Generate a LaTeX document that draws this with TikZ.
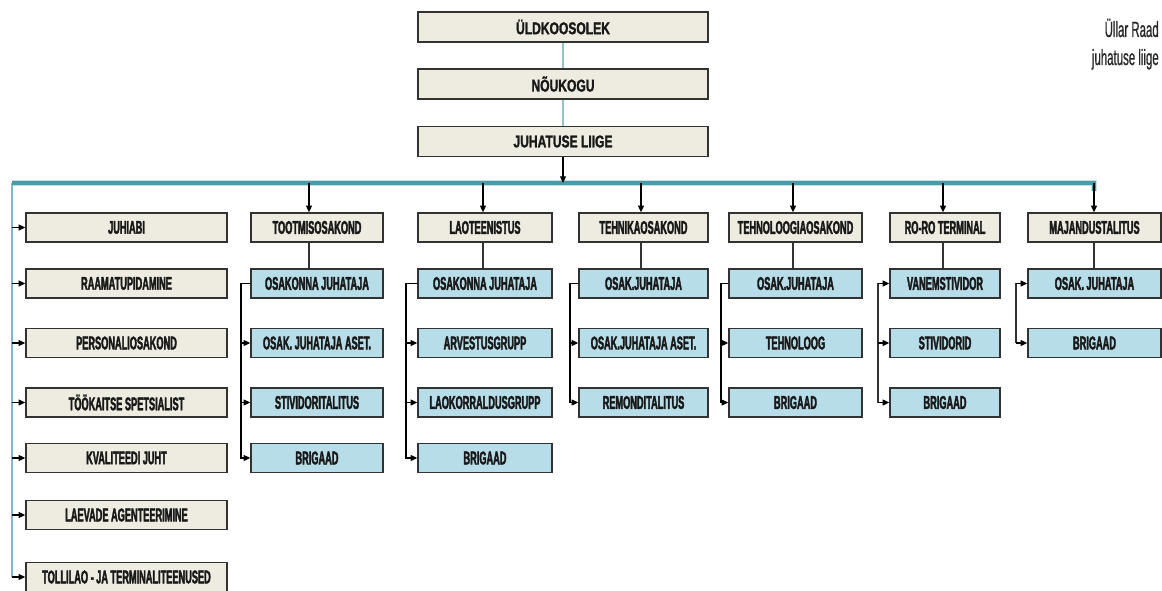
\documentclass[tikz,border=0pt]{standalone}
\usepackage{fontspec}
\usetikzlibrary{arrows.meta}
\setmainfont{Liberation Sans}
\newfontfamily\bxfont[FakeStretch=0.5, FakeBold=2]{Liberation Sans}
\newfontfamily\ttlfont[FakeStretch=0.71, FakeBold=1.5]{Liberation Sans}
\newfontfamily\nmfont[FakeStretch=0.52, FakeBold=0.6]{Liberation Sans}
\definecolor{beigec}{RGB}{238,236,225}
\definecolor{bluec}{RGB}{183,221,232}
\definecolor{busc}{RGB}{74,154,170}
\definecolor{edgec}{RGB}{50,50,50}
\begin{document}
\begin{tikzpicture}[x=0.75pt,y=-0.75pt,
 bxbase/.style={draw=edgec, line width=1.1pt, inner sep=0pt, minimum height={29*0.75pt}, font=\bxfont\bfseries\fontsize{13.8pt}{15pt}\selectfont, text=black!90},
 beigebox/.style={bxbase, fill=beigec},
 bluebox/.style={bxbase, fill=bluec},
 wd/.style={minimum width={#1*0.75pt}},
 topbox/.style={beigebox, minimum width={290*0.75pt}, minimum height={30*0.75pt}, font=\ttlfont\bfseries\fontsize{12.75pt}{14pt}\selectfont},
 arr/.style={draw=black, line width=0.8pt, -{Triangle[length=5pt,width=4.5pt]}},
 link/.style={draw=black!80, line width=0.8pt},
 toplink/.style={draw=busc!60, line width=0.8pt},
 busglow/.style={draw=busc!30, line width=4.5pt},
 bus/.style={draw=busc, line width=2.3pt},
 nametext/.style={anchor=base east, inner sep=0pt, text=black!85, font=\nmfont\fontsize{16.5pt}{19pt}\selectfont},
]
\useasboundingbox (0,0) rectangle (1162,591);
\fill[white] (0,0) rectangle (1162,591);

% top chain
\node[topbox] (uk) at (563,27) {ÜLDKOOSOLEK};
\node[topbox] (nk) at (563,84) {NÕUKOGU};
\node[topbox] (jl) at (563,141.5) {JUHATUSE LIIGE};
\draw[toplink] (uk.south) -- (nk.north);
\draw[toplink] (nk.south) -- (jl.north);

% name
\node[nametext] (nm) at (1159,37) {Üllar Raad};
\node[nametext] (nr) at (1159,65) {juhatuse liige};

% bus
\coordinate (busL) at (12,183);
\coordinate (busR) at (1094,183);
\coordinate (leftEnd) at (12,577);
\draw[busglow] (busL) -- (busR) -- ++(0,8);
\draw[draw=busc!70, line width=1.6pt] (busL) -- (leftEnd);
\draw[bus] (busL) -- (busR) -- ++(0,8);
\draw[arr] (jl.south) -- (jl.south |- busL);

% left column
\node[beigebox, wd=201] (l1) at (126.5,227.5) {JUHIABI};
\node[beigebox, wd=201] (l2) at (126.5,283.5) {RAAMATUPIDAMINE};
\node[beigebox, wd=201] (l3) at (126.5,343) {PERSONALIOSAKOND};
\node[beigebox, wd=201] (l4) at (126.5,402.5) {TÖÖKAITSE SPETSIALIST};
\node[beigebox, wd=201] (l5) at (126.5,458) {KVALITEEDI JUHT};
\node[beigebox, wd=201] (l6) at (126.5,515) {LAEVADE AGENTEERIMINE};
\node[beigebox, wd=201] (l7) at (126.5,577) {TOLLILAO - JA TERMINALITEENUSED};
\foreach \n in {l1,l2,l3,l4,l5,l6,l7}{\draw[arr] (\n.west -| leftEnd) -- (\n.west);}

% column 1
\node[beigebox, wd=132] (d1) at (317,227.5) {TOOTMISOSAKOND};
\node[bluebox, wd=132] (b11) at (317,283.5) {OSAKONNA JUHATAJA};
\node[bluebox, wd=132] (b12) at (317,343) {OSAK. JUHATAJA ASET.};
\node[bluebox, wd=132] (b13) at (317,402.5) {STIVIDORITALITUS};
\node[bluebox, wd=132] (b14) at (317,458) {BRIGAAD};
\coordinate (t1) at (309,183);
\coordinate (k1) at (241,183);
\draw[arr] (t1) -- (t1 |- d1.north);
\draw[link] (t1 |- d1.south) -- (t1 |- b11.north);
\draw[arr] (b11.west) -| (b14.west -| k1) -- (b14.west);
\draw[arr] (b12.west -| k1) -- (b12.west);
\draw[arr] (b13.west -| k1) -- (b13.west);

% column 2
\node[beigebox, wd=134] (d2) at (485,227.5) {LAOTEENISTUS};
\node[bluebox, wd=134] (b21) at (485,283.5) {OSAKONNA JUHATAJA};
\node[bluebox, wd=134] (b22) at (485,343) {ARVESTUSGRUPP};
\node[bluebox, wd=134] (b23) at (485,402.5) {LAOKORRALDUSGRUPP};
\node[bluebox, wd=134] (b24) at (485,458) {BRIGAAD};
\coordinate (t2) at (483,183);
\coordinate (k2) at (406,183);
\draw[arr] (t2) -- (t2 |- d2.north);
\draw[link] (t2 |- d2.south) -- (t2 |- b21.north);
\draw[arr] (b21.west) -| (b24.west -| k2) -- (b24.west);
\draw[arr] (b22.west -| k2) -- (b22.west);
\draw[arr] (b23.west -| k2) -- (b23.west);

% column 3
\node[beigebox, wd=129] (d3) at (643.5,227.5) {TEHNIKAOSAKOND};
\node[bluebox, wd=129] (b31) at (643.5,283.5) {OSAK.JUHATAJA};
\node[bluebox, wd=129] (b32) at (643.5,343) {OSAK.JUHATAJA ASET.};
\node[bluebox, wd=129] (b33) at (643.5,402.5) {REMONDITALITUS};
\coordinate (t3) at (641,183);
\coordinate (k3) at (570,183);
\draw[arr] (t3) -- (t3 |- d3.north);
\draw[link] (t3 |- d3.south) -- (t3 |- b31.north);
\draw[arr] (b31.west) -| (b33.west -| k3) -- (b33.west);
\draw[arr] (b32.west -| k3) -- (b32.west);

% column 4
\node[beigebox, wd=133] (d4) at (795.5,227.5) {TEHNOLOOGIAOSAKOND};
\node[bluebox, wd=133] (b41) at (795.5,283.5) {OSAK.JUHATAJA};
\node[bluebox, wd=133] (b42) at (795.5,343) {TEHNOLOOG};
\node[bluebox, wd=133] (b43) at (795.5,402.5) {BRIGAAD};
\coordinate (t4) at (793,183);
\coordinate (k4) at (721,183);
\draw[arr] (t4) -- (t4 |- d4.north);
\draw[link] (t4 |- d4.south) -- (t4 |- b41.north);
\draw[arr] (b41.west) -| (b43.west -| k4) -- (b43.west);
\draw[arr] (b42.west -| k4) -- (b42.west);

% column 5
\node[beigebox, wd=110] (d5) at (945,227.5) {RO-RO TERMINAL};
\node[bluebox, wd=110] (b51) at (945,283.5) {VANEMSTIVIDOR};
\node[bluebox, wd=110] (b52) at (945,343) {STIVIDORID};
\node[bluebox, wd=110] (b53) at (945,402.5) {BRIGAAD};
\coordinate (t5) at (943,183);
\coordinate (k5) at (878,183);
\draw[arr] (t5) -- (t5 |- d5.north);
\draw[link] (t5 |- d5.south) -- (t5 |- b51.north);
\draw[link] (b51.west -| k5) -- (b53.west -| k5);
\draw[arr] (b51.west -| k5) -- (b51.west);
\draw[arr] (b52.west -| k5) -- (b52.west);
\draw[arr] (b53.west -| k5) -- (b53.west);

% column 6
\node[beigebox, wd=133] (d6) at (1094.5,227.5) {MAJANDUSTALITUS};
\node[bluebox, wd=133] (b61) at (1094.5,283.5) {OSAK. JUHATAJA};
\node[bluebox, wd=133] (b62) at (1094.5,343) {BRIGAAD};
\coordinate (k6) at (1016,183);
\draw[arr] (busR) -- (busR |- d6.north);
\draw[link] (busR |- d6.south) -- (busR |- b61.north);
\draw[link] (b61.west -| k6) -- (b62.west -| k6);
\draw[arr] (b61.west -| k6) -- (b61.west);
\draw[arr] (b62.west -| k6) -- (b62.west);
\end{tikzpicture}
\end{document}
